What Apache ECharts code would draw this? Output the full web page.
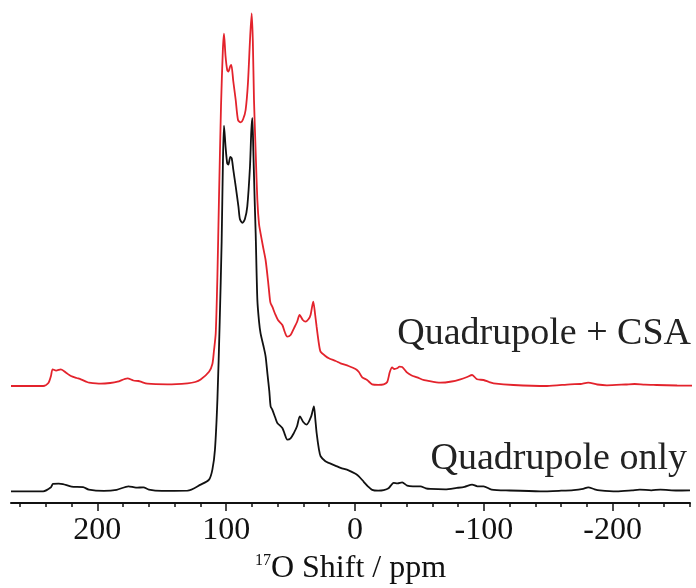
<!DOCTYPE html>
<html>
<head>
<meta charset="utf-8">
<script src="https://cdn.jsdelivr.net/npm/echarts@6/dist/echarts.min.js"></script>
<style>
    html, body { margin: 0; padding: 0; background: #fff; }
    #nmr-chart { width: 696px; height: 588px; }
</style>
</head>
<body>
<div id="nmr-chart"></div>
<script>
    // chemical shift (ppm) and intensity, one pair of arrays per trace
    var quadShift = [267, 242, 236, 234.5, 230, 226.7, 220, 211, 206.6, 195, 185, 175.8, 170, 164.2, 160, 150, 130,
        119.8, 113.3, 110.7, 108.7, 106.8, 105, 103.5, 102.5, 101.7, 100.5, 99.2, 98.3, 96.8, 95.7, 94.5, 92.6,
        90.5, 89.3, 87.4, 85.5, 83.6, 81.5, 80.5, 79.7, 78.9, 77.9, 77.1, 75.8, 74.5, 73.3, 71, 69.4, 68, 66.5,
        65.5, 64.2, 62, 60.3, 56.4, 54.5, 52.6, 50, 47.4, 45, 42.8, 40, 37.6, 34, 31.9, 30.8, 29.8, 28, 26.7,
        23, 20.3, 15, 11.2, 5, -0.4, -3, -6.8, -10, -13.3, -18, -22.3, -26, -30, -33, -36.6, -40.5, -45, -50.8,
        -55, -58.5, -70, -79, -85, -90.9, -95, -99.8, -106, -120, -143.8, -160, -169.6, -177, -181, -186, -190,
        -203, -215, -221, -230, -237, -250, -260];
    var quadIntensity = [0, 0, 4, 7.4, 7.6, 7.2, 4.7, 4.2, 1.7, 0.5, 1.5, 5, 3.6, 4, 1.7, 0.5, 0.6,
        6.7, 11.7, 21.7, 41.7, 91.7, 170, 250, 330, 365.7, 345, 328, 326.7, 334.4, 333, 322, 305,
        285, 272, 268.4, 272, 285, 325, 360, 373.4, 340, 291.7, 258, 191.7, 170, 158, 145, 135, 118, 100,
        85, 81.7, 74, 68.4, 63.4, 57, 51.7, 53, 58.4, 65, 75, 69, 66.7, 75, 85, 72, 58.4, 42, 35,
        30, 28.4, 25.5, 23.4, 21, 17.5, 15, 9.5, 5, 1.5, 0.7, 1.2, 3, 8.4, 8, 9, 5.7, 5, 5,
        3, 2.4, 2, 3.4, 4.5, 6.7, 5, 5, 1.7, 0.8, 0, 0.6, 1.2, 2.5, 4, 2, 1,
        0, 1, 1.7, 1, 1.7, 0.8, 1];

    var csaShift = [267, 242, 238, 236, 234.7, 232, 228.3, 224, 220.5, 216, 212.8, 208, 206.4, 197.3, 190, 184.3,
        176.6, 172, 168, 166.3, 161, 145.6, 130, 124, 119.8, 113.3, 110.7, 109.5, 108.1, 106.8, 105.6, 104,
        102.6, 101.7, 100.5, 99.2, 98.3, 96.8, 96, 94.5, 92.6, 90.8, 88.8, 86.8, 84.9, 83.1, 81.5, 80.2, 79.3,
        78.4, 77, 75.8, 74.5, 73.3, 71.5, 69.4, 67.5, 66, 65.5, 64.2, 62, 59.8, 56.4, 54.5, 52.6, 50, 47.4, 45,
        43, 40.5, 38.4, 36, 34.5, 32.4, 31, 29.8, 28, 26.7, 23, 20.3, 15, 11.2, 5, -0.4, -3, -5.6, -9.4, -13.3,
        -18, -22.3, -25, -27, -28.8, -30.5, -32.7, -34.5, -36.6, -40.5, -44, -48.2, -52, -56, -66.3, -75, -81.8,
        -87, -90.9, -94.7, -99.8, -104, -107.6, -123, -149, -167, -175, -181, -188, -195.5, -210, -217, -225,
        -234, -250, -262];
    var csaIntensity = [0, 0, 3, 10, 16.7, 15.4, 16.7, 13, 10, 8, 6.7, 4, 3.3, 2.3, 3, 4.3,
        7.7, 5.5, 5, 4.3, 2.3, 1.7, 2.7, 4, 6.5, 14.3, 22, 35, 52.7, 110, 186, 280,
        335, 352.3, 330, 316, 314.3, 320, 321, 305, 286, 266, 263.7, 267, 276, 302.7, 346, 372.7, 345,
        286, 230, 186, 162, 152.7, 140, 126, 105, 86, 82.7, 79.3, 72, 66, 61, 54, 49.3, 51, 57.7, 64,
        71, 66, 64.3, 67, 71, 84.3, 72, 59.3, 42, 34.3, 30, 27.7, 25, 22.7, 20, 17, 14, 8.7, 6, 1.7,
        1.2, 1.7, 4, 14, 18.7, 17, 17.7, 19.3, 19, 13.3, 10.5, 8.7, 6.5, 5.3, 3.3, 4.5, 6.7,
        9, 11, 6.7, 6, 4, 2.7, 1, 0, 1.7, 2, 3.3, 1.5, 0.7, 1.5, 2, 1.3,
        1, 0.5, 0.3];

    var majorTicks = [200, 100, 0, -100, -200];
    var minorTicks = [260, 240, 220, 180, 160, 140, 120, 80, 60, 40, 20, -20, -40, -60, -80,
        -120, -140, -160, -180, -220, -240, -260];

    // vertical stacking of the two traces
    var quadOffset = 11.7;
    var csaOffset = 117;

    function pairs(xs, ys, offset) {
        var out = [];
        for (var i = 0; i < xs.length; i++) {
            out.push([xs[i], ys[i] + offset]);
        }
        return out;
    }

    var serifFont = '"Liberation Serif", "DejaVu Serif", serif';
    var nmrChart = echarts.init(document.getElementById('nmr-chart'));

    var axisBase = {
        type: 'value',
        min: -260,
        max: 267,
        inverse: true,
        position: 'bottom',
        splitLine: { show: false }
    };

    nmrChart.setOption({
        animation: false,
        grid: { left: 11, right: 6, top: 0, bottom: 85, containLabel: false, outerBoundsMode: 'none' },
        xAxis: [
            Object.assign({}, axisBase, {
                name: '{sup|17}{base|O Shift / ppm}',
                nameLocation: 'middle',
                nameGap: 50,
                nameTextStyle: {
                    rich: {
                        sup: { fontFamily: serifFont, fontSize: 16, color: '#111', verticalAlign: 'top', lineHeight: 32 },
                        base: { fontFamily: serifFont, fontSize: 32, color: '#111', lineHeight: 32 }
                    }
                },
                axisLine: { show: true, lineStyle: { color: '#111', width: 2 } },
                axisTick: { show: true, length: 8, customValues: majorTicks, lineStyle: { color: '#111', width: 1.5 } },
                axisLabel: {
                    customValues: majorTicks,
                    margin: 12,
                    fontFamily: serifFont,
                    fontSize: 32,
                    color: '#111'
                }
            }),
            Object.assign({}, axisBase, {
                axisLine: { show: false },
                axisTick: { show: true, length: 4, customValues: minorTicks, lineStyle: { color: '#111', width: 1.5 } },
                axisLabel: { show: false }
            })
        ],
        yAxis: {
            type: 'value',
            min: 0,
            max: 503,
            show: false,
            splitLine: { show: false }
        },
        series: [
            {
                name: 'Quadrupole + CSA',
                type: 'line',
                xAxisIndex: 0,
                data: pairs(csaShift, csaIntensity, csaOffset),
                showSymbol: false,
                smooth: 0.25,
                lineStyle: { color: '#e3232c', width: 1.8 }
            },
            {
                name: 'Quadrupole only',
                type: 'line',
                xAxisIndex: 0,
                data: pairs(quadShift, quadIntensity, quadOffset),
                showSymbol: false,
                smooth: 0.25,
                lineStyle: { color: '#111', width: 1.8 }
            }
        ],
        graphic: [
            {
                type: 'text',
                right: 5,
                top: 315,
                style: { text: 'Quadrupole + CSA', font: '38px ' + serifFont, fill: '#222' }
            },
            {
                type: 'text',
                right: 9,
                top: 440,
                style: { text: 'Quadrupole only', font: '38px ' + serifFont, fill: '#222' }
            }
        ]
    });
</script>
</body>
</html>
